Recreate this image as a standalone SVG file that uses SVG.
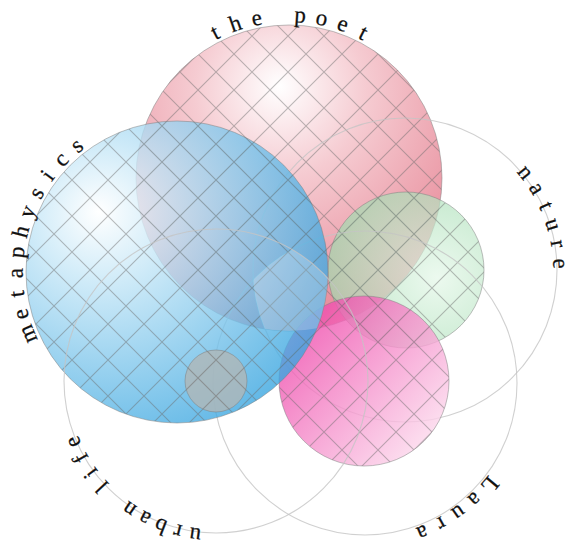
<svg xmlns="http://www.w3.org/2000/svg" width="570" height="548" viewBox="0 0 570 548">
<style>
.ring{fill:none;stroke:#c4c4c4;stroke-opacity:.8;stroke-width:1.1}
.edge{fill:none;stroke:#7d7d7d;stroke-opacity:.5;stroke-width:1}
.grid{fill:url(#grid)}
.lbl{font-family:"Liberation Serif","Times New Roman",serif;font-size:23px;fill:#111;stroke:#111;stroke-width:.25;text-anchor:middle}
</style>
<defs>
<pattern id="grid" patternUnits="userSpaceOnUse" width="36" height="36">
<path d="M-1,-1 L37,37 M37,-1 L-1,37" stroke="#6a6a6a" stroke-opacity=".45" stroke-width="1.1"/>
</pattern>
<radialGradient id="gPink" cx="0.47" cy="0.24" r="0.8" fx="0.47" fy="0.2">
<stop offset="0" stop-color="#ffffff"/><stop offset="0.35" stop-color="#f4c4cb"/><stop offset="1" stop-color="#e26f82"/>
</radialGradient>
<radialGradient id="gBlue" cx="0.27" cy="0.33" r="0.78" fx="0.24" fy="0.3">
<stop offset="0" stop-color="#ffffff"/><stop offset="0.28" stop-color="#c6e7f7"/><stop offset="1" stop-color="#3aa6e0"/>
</radialGradient>
<radialGradient id="gGreen" cx="0.7" cy="0.55" r="0.8">
<stop offset="0" stop-color="#e4f7e8"/><stop offset="1" stop-color="#96d6a6"/>
</radialGradient>
<linearGradient id="gMag" x1="0.05" y1="0.2" x2="0.9" y2="0.95">
<stop offset="0" stop-color="#ee46aa"/><stop offset="1" stop-color="#fde3f1"/>
</linearGradient>
<clipPath id="cP"><circle cx="289" cy="178" r="153"/></clipPath>
<clipPath id="cN"><circle cx="405" cy="270" r="152"/></clipPath>
<clipPath id="cL"><circle cx="365" cy="383" r="152"/></clipPath>
<clipPath id="cU"><circle cx="216" cy="381" r="152"/></clipPath>
<path id="pP" d="M289,334 A156,156 0 1 1 289,22 A156,156 0 1 1 289,334"/>
<path id="pM" d="M325.75,311.86 A154,154 0 1 1 28.25,232.14 A154,154 0 1 1 325.75,311.86"/>
<path id="pN" d="M265.93,320.62 A148,148 0 1 1 544.07,219.38 A148,148 0 1 1 265.93,320.62"/>
<path id="pL" d="M279.45,256.18 A153,153 0 1 1 450.55,509.82 A153,153 0 1 1 279.45,256.18"/>
<path id="pU" d="M307.12,264.38 A148,148 0 1 1 124.88,497.62 A148,148 0 1 1 307.12,264.38"/>
</defs>
<rect width="570" height="548" fill="#ffffff"/>

<g id="the-poet">
<circle cx="289" cy="178" r="153" fill="url(#gPink)" fill-opacity=".88"/>
<circle cx="289" cy="178" r="153" class="grid"/>
<circle cx="289" cy="178" r="153" class="edge"/>
<text class="lbl"><textPath href="#pP" startOffset="416.59">t</textPath></text>
<text class="lbl"><textPath href="#pP" startOffset="437.59">h</textPath></text>
<text class="lbl"><textPath href="#pP" startOffset="458.59">e</textPath></text>
<text class="lbl"><textPath href="#pP" startOffset="500.59">p</textPath></text>
<text class="lbl"><textPath href="#pP" startOffset="521.59">o</textPath></text>
<text class="lbl"><textPath href="#pP" startOffset="542.59">e</textPath></text>
<text class="lbl"><textPath href="#pP" startOffset="563.59">t</textPath></text>
</g>

<g id="nature">
<circle cx="406" cy="270" r="78" fill="url(#gGreen)" fill-opacity=".7"/>
<circle cx="406" cy="270" r="78" class="grid"/>
<circle cx="406" cy="270" r="78" class="edge"/>
<circle cx="405" cy="270" r="152" class="ring"/>
<text class="lbl"><textPath href="#pN" startOffset="417.46">n</textPath></text>
<text class="lbl"><textPath href="#pN" startOffset="436.46">a</textPath></text>
<text class="lbl"><textPath href="#pN" startOffset="455.46">t</textPath></text>
<text class="lbl"><textPath href="#pN" startOffset="474.46">u</textPath></text>
<text class="lbl"><textPath href="#pN" startOffset="493.46">r</textPath></text>
<text class="lbl"><textPath href="#pN" startOffset="512.46">e</textPath></text>
</g>

<g id="laura">
<circle cx="364" cy="381" r="85" fill="url(#gMag)" fill-opacity=".8"/>
<circle cx="364" cy="381" r="85" class="grid"/>
<circle cx="364" cy="381" r="85" class="edge"/>
<circle cx="365" cy="383" r="152" class="ring"/>
<text class="lbl"><textPath href="#pL" startOffset="440.66">L</textPath></text>
<text class="lbl"><textPath href="#pL" startOffset="460.66">a</textPath></text>
<text class="lbl"><textPath href="#pL" startOffset="480.66">u</textPath></text>
<text class="lbl"><textPath href="#pL" startOffset="500.66">r</textPath></text>
<text class="lbl"><textPath href="#pL" startOffset="520.66">a</textPath></text>
</g>

<g id="metaphysics">
<circle cx="177" cy="272" r="151" fill="url(#gBlue)" fill-opacity=".8"/>
<circle cx="177" cy="272" r="151" class="grid"/>
<circle cx="177" cy="272" r="151" class="edge"/>
<text class="lbl"><textPath href="#pM" startOffset="383.81">m</textPath></text>
<text class="lbl"><textPath href="#pM" startOffset="403.81">e</textPath></text>
<text class="lbl"><textPath href="#pM" startOffset="423.81">t</textPath></text>
<text class="lbl"><textPath href="#pM" startOffset="443.81">a</textPath></text>
<text class="lbl"><textPath href="#pM" startOffset="463.81">p</textPath></text>
<text class="lbl"><textPath href="#pM" startOffset="483.81">h</textPath></text>
<text class="lbl"><textPath href="#pM" startOffset="503.81">y</textPath></text>
<text class="lbl"><textPath href="#pM" startOffset="523.81">s</textPath></text>
<text class="lbl"><textPath href="#pM" startOffset="543.81">i</textPath></text>
<text class="lbl"><textPath href="#pM" startOffset="563.81">c</textPath></text>
<text class="lbl"><textPath href="#pM" startOffset="583.81">s</textPath></text>
</g>

<g id="intersection">
<g clip-path="url(#cP)"><g clip-path="url(#cN)"><g clip-path="url(#cL)"><g clip-path="url(#cU)">
<circle cx="177" cy="272" r="151" fill="#ffffff" fill-opacity=".22"/>
</g></g></g></g>
</g>

<g id="urban-life">
<circle cx="216" cy="381" r="31" fill="#b0b6b6" fill-opacity=".8"/>
<circle cx="216" cy="381" r="31" class="grid"/>
<circle cx="216" cy="381" r="31" class="edge"/>
<circle cx="216" cy="381" r="152" class="ring"/>
<text class="lbl"><textPath href="#pU" startOffset="388.46">u</textPath></text>
<text class="lbl"><textPath href="#pU" startOffset="405.46">r</textPath></text>
<text class="lbl"><textPath href="#pU" startOffset="422.46">b</textPath></text>
<text class="lbl"><textPath href="#pU" startOffset="439.46">a</textPath></text>
<text class="lbl"><textPath href="#pU" startOffset="456.46">n</textPath></text>
<text class="lbl"><textPath href="#pU" startOffset="490.46">l</textPath></text>
<text class="lbl"><textPath href="#pU" startOffset="507.46">i</textPath></text>
<text class="lbl"><textPath href="#pU" startOffset="524.46">f</textPath></text>
<text class="lbl"><textPath href="#pU" startOffset="541.46">e</textPath></text>
</g>
</svg>
